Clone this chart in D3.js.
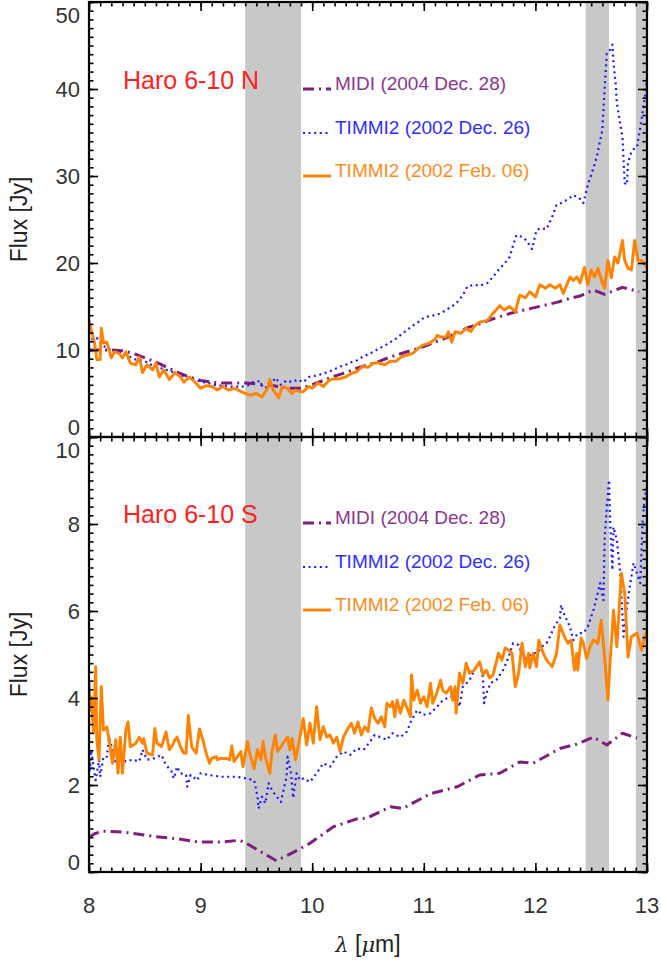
<!DOCTYPE html>
<html>
<head>
<meta charset="utf-8">
<script src="https://cdn.jsdelivr.net/npm/d3@7"></script>
<style>
  body { margin: 0; background: #fff; }
  svg { display: block; }
  text { font-family: "Liberation Sans", Arial, Helvetica, sans-serif; }
</style>
</head>
<body>
<div id="chart"></div>
<script>
// grey bands (micron)
const bands = [[9.4, 9.9], [12.45, 12.66], [12.9, 13.0]];

// Haro 6-10 N
const northMidi = [[8.0,10.0],[8.1,10.0],[8.2,10.0],[8.3,9.9],[8.4,9.6],[8.5,9.1],[8.6,8.6],[8.7,8.0],[8.8,7.4],[8.9,6.9],[9.0,6.5],[9.1,6.3],[9.2,6.2],[9.4,6.2],[9.5,6.1],[9.6,6.0],[9.7,5.8],[9.8,5.6],[9.9,5.6],[10.0,6.0],[10.1,6.5],[10.2,7.0],[10.3,7.4],[10.4,7.9],[10.5,8.3],[10.6,8.7],[10.7,9.2],[10.8,9.6],[10.9,10.0],[11.0,10.4],[11.1,10.9],[11.2,11.4],[11.3,12.0],[11.4,12.6],[11.5,13.0],[11.6,13.5],[11.7,13.9],[11.8,14.3],[11.9,14.6],[12.0,14.9],[12.1,15.2],[12.2,15.5],[12.3,15.9],[12.4,16.2],[12.45,16.5],[12.52,16.9],[12.62,16.4],[12.7,16.8],[12.78,17.2],[12.93,16.7]];

const northDec = [[8.02,11.2],[8.07,11.4],[8.12,10.5],[8.17,10.2],[8.22,9.9],[8.27,9.8],[8.32,9.6],[8.37,9.2],[8.42,8.9],[8.47,8.8],[8.52,8.6],[8.57,8.2],[8.62,8.0],[8.67,7.8],[8.72,7.6],[8.77,7.4],[8.82,7.1],[8.87,6.9],[8.92,6.7],[8.97,6.5],[9.02,6.3],[9.07,6.2],[9.12,6.0],[9.17,5.9],[9.22,5.9],[9.27,5.8],[9.32,5.8],[9.37,5.8],[9.42,5.9],[9.47,6.3],[9.52,6.4],[9.57,5.6],[9.62,5.9],[9.67,6.8],[9.72,6.0],[9.77,6.5],[9.82,6.3],[9.87,6.6],[9.92,6.3],[9.97,6.9],[10.05,7.1],[10.1,7.3],[10.15,7.5],[10.2,7.8],[10.25,8.1],[10.3,8.3],[10.35,8.6],[10.4,8.8],[10.45,9.2],[10.5,9.5],[10.55,9.8],[10.6,10.2],[10.65,10.5],[10.7,10.9],[10.75,11.3],[10.8,11.8],[10.85,12.3],[10.9,12.8],[10.95,13.2],[11.0,13.7],[11.05,13.9],[11.1,14.0],[11.15,14.2],[11.2,14.6],[11.25,15.0],[11.3,15.5],[11.35,16.3],[11.39,17.3],[11.45,17.5],[11.5,17.4],[11.57,17.7],[11.62,18.4],[11.67,19.2],[11.72,19.9],[11.77,20.7],[11.8,22.0],[11.83,23.2],[11.88,23.0],[11.92,22.6],[11.97,21.6],[12.01,23.8],[12.05,24.0],[12.1,23.9],[12.15,25.3],[12.19,26.7],[12.25,27.0],[12.3,27.4],[12.34,27.8],[12.39,27.5],[12.43,26.9],[12.47,29.0],[12.51,30.5],[12.55,32.2],[12.6,35.3],[12.62,40.0],[12.64,44.1],[12.67,44.5],[12.69,45.1],[12.7,43.0],[12.72,40.5],[12.73,38.4],[12.76,36.0],[12.78,34.5],[12.8,29.2],[12.82,29.0],[12.83,31.5],[12.86,32.8],[12.89,33.2],[12.91,33.3],[12.95,36.4],[12.98,39.0],[13.0,41.4]];

const northFeb = [[8.0,13.4],[8.02,12.3],[8.05,10.8],[8.07,8.9],[8.1,8.9],[8.11,12.5],[8.13,10.8],[8.16,10.9],[8.2,9.1],[8.23,9.8],[8.27,9.6],[8.3,9.1],[8.33,9.8],[8.37,8.5],[8.42,8.3],[8.45,9.2],[8.48,7.4],[8.52,8.3],[8.57,7.7],[8.6,8.5],[8.63,6.9],[8.67,7.7],[8.72,6.6],[8.77,7.4],[8.82,6.9],[8.85,6.3],[8.9,6.9],[8.95,6.3],[9.0,5.6],[9.05,5.9],[9.1,5.8],[9.15,5.4],[9.2,5.8],[9.25,5.4],[9.3,5.6],[9.35,5.3],[9.4,5.0],[9.45,4.8],[9.5,5.0],[9.55,4.6],[9.6,5.6],[9.62,6.6],[9.65,5.4],[9.7,4.5],[9.73,5.8],[9.78,5.6],[9.82,5.0],[9.85,5.4],[9.9,5.2],[9.92,5.2],[9.97,5.8],[10.0,5.6],[10.05,6.2],[10.1,5.8],[10.15,6.5],[10.2,6.7],[10.25,6.7],[10.3,6.9],[10.35,7.3],[10.4,7.5],[10.45,8.1],[10.5,8.0],[10.55,8.5],[10.6,8.5],[10.65,8.3],[10.7,8.7],[10.75,8.7],[10.8,9.2],[10.85,9.4],[10.9,9.6],[10.95,10.2],[11.0,10.6],[11.05,10.8],[11.1,11.2],[11.12,11.7],[11.15,11.5],[11.2,11.5],[11.22,12.1],[11.25,10.9],[11.28,12.1],[11.33,11.9],[11.38,12.5],[11.42,12.1],[11.45,12.7],[11.5,13.2],[11.57,13.4],[11.62,14.2],[11.68,15.1],[11.72,14.6],[11.77,15.0],[11.82,14.4],[11.86,16.3],[11.91,16.0],[11.95,16.7],[12.0,16.1],[12.04,17.5],[12.09,17.1],[12.13,17.5],[12.18,17.1],[12.22,17.5],[12.25,16.5],[12.31,18.4],[12.34,18.0],[12.37,18.4],[12.4,17.7],[12.44,19.5],[12.47,17.5],[12.5,19.2],[12.53,18.4],[12.56,19.4],[12.6,17.7],[12.62,17.1],[12.65,20.3],[12.68,18.3],[12.71,20.7],[12.74,20.0],[12.78,22.6],[12.8,20.3],[12.83,19.4],[12.86,19.2],[12.89,22.6],[12.92,20.3],[12.95,20.3],[13.0,19.5]];

// Haro 6-10 S
const southMidi = [[8.0,0.8],[8.05,0.88],[8.12,0.94],[8.3,0.92],[8.45,0.87],[8.6,0.81],[8.8,0.76],[8.98,0.69],[9.19,0.69],[9.35,0.73],[9.41,0.66],[9.55,0.45],[9.68,0.26],[9.83,0.45],[9.98,0.66],[10.19,1.04],[10.4,1.22],[10.49,1.24],[10.7,1.5],[10.81,1.46],[11.06,1.8],[11.3,1.96],[11.5,2.23],[11.68,2.27],[11.86,2.53],[11.98,2.5],[12.22,2.84],[12.37,2.94],[12.52,3.1],[12.64,2.92],[12.78,3.19],[12.91,3.08]];

const southDec = [[8.0,2.65],[8.01,2.35],[8.02,2.8],[8.04,2.42],[8.06,2.11],[8.09,2.58],[8.1,2.19],[8.13,2.65],[8.16,2.65],[8.18,3.1],[8.21,2.81],[8.24,2.5],[8.27,2.65],[8.33,2.54],[8.39,2.58],[8.45,2.54],[8.48,2.81],[8.52,2.58],[8.58,2.61],[8.65,2.69],[8.69,2.46],[8.74,2.31],[8.76,2.15],[8.79,2.42],[8.82,2.27],[8.87,2.23],[8.88,1.96],[8.91,2.23],[8.97,2.11],[9.0,2.27],[9.07,2.23],[9.19,2.19],[9.32,2.19],[9.41,2.15],[9.48,2.11],[9.51,1.73],[9.52,1.46],[9.55,1.73],[9.58,1.58],[9.61,2.04],[9.64,1.88],[9.67,1.77],[9.72,1.61],[9.77,2.19],[9.78,2.65],[9.81,2.27],[9.83,1.7],[9.86,2.27],[9.89,2.11],[9.92,2.15],[9.98,2.07],[10.04,2.27],[10.1,2.5],[10.16,2.42],[10.22,2.65],[10.28,2.77],[10.34,2.69],[10.4,2.84],[10.46,2.81],[10.52,3.0],[10.56,3.15],[10.61,3.1],[10.67,3.04],[10.72,3.19],[10.79,3.1],[10.85,3.23],[10.89,3.49],[10.94,3.72],[10.99,3.61],[11.06,3.65],[11.12,3.8],[11.17,3.95],[11.24,4.03],[11.3,3.95],[11.32,3.8],[11.35,4.26],[11.41,4.41],[11.47,4.72],[11.5,4.83],[11.53,4.48],[11.54,3.88],[11.57,4.18],[11.6,4.35],[11.65,4.41],[11.71,4.64],[11.76,4.94],[11.8,5.26],[11.85,5.22],[11.89,4.94],[11.92,4.91],[11.97,5.03],[12.01,5.03],[12.06,5.18],[12.1,5.26],[12.13,5.41],[12.17,5.64],[12.22,5.84],[12.23,6.14],[12.26,5.91],[12.31,5.64],[12.34,5.33],[12.38,5.49],[12.43,5.49],[12.47,5.64],[12.52,6.02],[12.55,6.32],[12.58,6.64],[12.61,6.25],[12.62,7.63],[12.64,8.39],[12.66,9.01],[12.67,8.02],[12.69,6.94],[12.7,7.93],[12.73,7.63],[12.76,6.87],[12.79,5.41],[12.82,6.09],[12.85,6.64],[12.88,7.1],[12.91,6.87],[12.94,6.64],[12.96,8.02],[12.98,8.62],[13.0,8.85]];

const southFeb = [[8.0,4.34],[8.01,3.72],[8.02,4.03],[8.04,3.19],[8.06,4.72],[8.07,3.04],[8.09,2.58],[8.11,4.26],[8.13,3.26],[8.16,3.33],[8.18,3.04],[8.21,2.5],[8.24,3.04],[8.26,2.27],[8.28,3.1],[8.3,2.27],[8.33,3.26],[8.35,3.45],[8.37,2.88],[8.42,2.96],[8.45,3.1],[8.48,2.96],[8.49,3.07],[8.52,2.73],[8.57,2.69],[8.59,3.3],[8.61,2.96],[8.65,2.88],[8.69,3.22],[8.72,2.81],[8.75,2.92],[8.77,3.04],[8.79,3.1],[8.82,2.88],[8.85,2.73],[8.87,2.73],[8.89,3.6],[8.92,2.88],[8.96,2.73],[8.99,3.29],[9.02,3.04],[9.05,2.73],[9.08,2.5],[9.1,2.61],[9.14,2.65],[9.15,2.58],[9.18,2.61],[9.23,2.61],[9.26,2.58],[9.28,2.9],[9.3,2.54],[9.33,2.65],[9.36,2.77],[9.38,2.42],[9.42,3.0],[9.44,2.73],[9.48,2.38],[9.51,2.81],[9.54,2.58],[9.56,3.0],[9.58,2.65],[9.62,2.27],[9.64,2.77],[9.67,3.15],[9.69,2.77],[9.72,2.88],[9.75,3.0],[9.78,3.1],[9.8,2.81],[9.82,3.07],[9.85,2.58],[9.89,3.1],[9.92,3.53],[9.95,2.92],[9.98,3.42],[10.01,2.96],[10.04,3.8],[10.07,3.04],[10.1,3.34],[10.13,3.1],[10.16,3.15],[10.19,2.96],[10.22,3.1],[10.25,2.77],[10.28,3.1],[10.32,3.3],[10.35,3.42],[10.38,3.19],[10.41,3.45],[10.44,3.15],[10.47,3.34],[10.5,3.23],[10.53,3.77],[10.56,3.53],[10.59,3.42],[10.62,3.57],[10.65,3.34],[10.67,3.88],[10.7,3.8],[10.72,3.92],[10.74,3.57],[10.76,3.95],[10.79,3.65],[10.82,3.95],[10.85,3.77],[10.88,3.57],[10.89,4.53],[10.91,3.95],[10.94,4.18],[10.97,3.88],[11.0,4.03],[11.03,3.8],[11.06,4.34],[11.08,3.88],[11.12,4.14],[11.15,4.41],[11.17,4.18],[11.2,4.11],[11.24,4.26],[11.26,3.95],[11.28,4.26],[11.29,3.65],[11.32,4.57],[11.35,4.34],[11.38,4.8],[11.41,4.57],[11.45,4.64],[11.5,4.83],[11.53,4.53],[11.56,4.64],[11.59,4.46],[11.62,4.53],[11.67,5.03],[11.7,4.87],[11.73,5.15],[11.76,5.1],[11.79,5.03],[11.82,4.26],[11.85,4.57],[11.88,5.26],[11.91,4.72],[11.94,5.03],[11.95,4.69],[11.98,5.03],[12.01,4.72],[12.03,5.33],[12.07,5.03],[12.1,4.87],[12.15,4.72],[12.19,5.03],[12.22,5.68],[12.26,5.41],[12.29,5.26],[12.32,5.33],[12.35,4.64],[12.37,5.03],[12.38,4.64],[12.41,5.38],[12.43,5.26],[12.46,4.91],[12.49,5.18],[12.52,5.33],[12.56,5.26],[12.59,5.79],[12.62,4.94],[12.65,3.95],[12.67,4.87],[12.7,6.02],[12.73,5.18],[12.75,6.02],[12.77,6.87],[12.8,6.41],[12.83,4.94],[12.86,5.41],[12.91,5.49],[12.95,5.1],[12.98,5.41],[13.0,5.56]];

const xTicks = [8, 9, 10, 11, 12, 13];
const topTicks = [0, 10, 20, 30, 40, 50];
const botTicks = [0, 2, 4, 6, 8, 10];
const legendNames = ['MIDI (2004 Dec. 28)', 'TIMMI2 (2002 Dec. 26)', 'TIMMI2 (2002 Feb. 06)'];

const width = 661, height = 960;
const left = 89, right = 647;

const colors = { midi: '#7d1e7d', dec: '#1a1aff', feb: '#ff8200' };
const textColors = { midi: '#8c3590', dec: '#2f2fff', feb: '#ff8c20' };
const styles = {
  midi: { width: 3, dash: '11,5,2,5', cap: 'butt' },
  dec: { width: 2.2, dash: '2,3.6', cap: 'butt' },
  feb: { width: 2.9, dash: null, cap: 'round' }
};

const x = d3.scaleLinear().domain([8, 13]).range([left, right]);
const yTop = d3.scaleLinear().domain([0, 50]).range([437, 2]);
const yBot = d3.scaleLinear().domain([0, 10]).range([872, 437]);

const panels = [
  { id: 'n', y: yTop, ticks: topTicks, minor: d3.range(0, 50.01, 1), name: 'Haro 6-10 N',
    series: { midi: northMidi, dec: northDec, feb: northFeb }, legendY: [89, 133, 176] },
  { id: 's', y: yBot, ticks: botTicks, minor: d3.range(0, 10.001, 0.2), name: 'Haro 6-10 S',
    series: { midi: southMidi, dec: southDec, feb: southFeb }, legendY: [523, 567, 610] }
];

const svg = d3.select('#chart').append('svg')
    .attr('width', width)
    .attr('height', height);

// bands behind everything, across both panels
svg.append('g')
  .selectAll('rect')
  .data(bands)
  .enter().append('rect')
    .attr('x', d => x(d[0]))
    .attr('width', d => x(d[1]) - x(d[0]))
    .attr('y', yTop.range()[1])
    .attr('height', yBot.range()[0] - yTop.range()[1])
    .attr('fill', '#c8c8c8');

const xMinor = d3.range(8, 13.001, 0.1);

panels.forEach(p => {
  const y = p.y;
  const y0 = y.range()[0], y1 = y.range()[1];

  svg.append('clipPath').attr('id', 'clip-' + p.id)
    .append('rect').attr('x', left).attr('y', y1).attr('width', right - left).attr('height', y0 - y1);

  const g = svg.append('g').attr('clip-path', 'url(#clip-' + p.id + ')');
  const line = d3.line().x(d => x(d[0])).y(d => y(d[1]));

  ['midi', 'dec', 'feb'].forEach(k => {
    g.append('path')
      .datum(p.series[k])
      .attr('d', line)
      .attr('fill', 'none')
      .attr('stroke', colors[k])
      .attr('stroke-width', styles[k].width)
      .attr('stroke-dasharray', styles[k].dash)
      .attr('stroke-linecap', styles[k].cap)
      .attr('stroke-linejoin', 'round');
  });

  // ticks (all pointing inward)
  const tk = (axis, tr, size, vals) => {
    const a = svg.append('g').attr('transform', tr)
      .call(axis.tickValues(vals).tickSize(size).tickFormat(''));
    a.select('.domain').remove();
    a.selectAll('line').attr('stroke', '#000').attr('stroke-width', 1.6);
  };
  tk(d3.axisBottom(x), 'translate(0,' + y0 + ')', -4.5, xMinor);
  tk(d3.axisBottom(x), 'translate(0,' + y0 + ')', -9, xTicks);
  tk(d3.axisTop(x), 'translate(0,' + y1 + ')', -4.5, xMinor);
  tk(d3.axisTop(x), 'translate(0,' + y1 + ')', -9, xTicks);
  tk(d3.axisLeft(y), 'translate(' + left + ',0)', -4.5, p.minor);
  tk(d3.axisLeft(y), 'translate(' + left + ',0)', -9, p.ticks);
  tk(d3.axisRight(y), 'translate(' + right + ',0)', -4.5, p.minor);
  tk(d3.axisRight(y), 'translate(' + right + ',0)', -9, p.ticks);

  // y tick labels, edge labels nudged inside the panel
  const last = p.ticks[p.ticks.length - 1];
  svg.append('g').selectAll('text')
    .data(p.ticks)
    .enter().append('text')
      .attr('x', left - 9)
      .attr('y', d => y(d) + (d === 0 ? -10 : d === last ? 13 : 0))
      .attr('dy', '0.36em')
      .attr('text-anchor', 'end')
      .attr('font-size', 22)
      .attr('fill', '#333')
      .text(d => d);

  // frame
  svg.append('rect')
    .attr('x', left).attr('y', y1)
    .attr('width', right - left).attr('height', y0 - y1)
    .attr('fill', 'none').attr('stroke', '#000').attr('stroke-width', 2.2);

  // object name
  svg.append('text')
    .attr('x', 123).attr('y', p.legendY[0])
    .attr('font-size', 25)
    .attr('fill', '#ff2020')
    .text(p.name);

  // legend
  ['midi', 'dec', 'feb'].forEach((k, i) => {
    const ly = p.legendY[i];
    svg.append('line')
      .attr('x1', 303).attr('x2', 331).attr('y1', ly).attr('y2', ly)
      .attr('stroke', colors[k])
      .attr('stroke-width', styles[k].width)
      .attr('stroke-dasharray', styles[k].dash);
    svg.append('text')
      .attr('x', 335).attr('y', ly + 1)
      .attr('font-size', 19)
      .attr('fill', textColors[k])
      .text(legendNames[i]);
  });

  // y axis title
  svg.append('text')
    .attr('transform', 'translate(27,' + ((y0 + y1) / 2) + ') rotate(-90)')
    .attr('text-anchor', 'middle')
    .attr('font-size', 23)
    .attr('fill', '#222')
    .text('Flux [Jy]');
});

// x tick labels
svg.append('g').selectAll('text')
  .data(xTicks)
  .enter().append('text')
    .attr('x', d => x(d))
    .attr('y', 913)
    .attr('text-anchor', 'middle')
    .attr('font-size', 22)
    .attr('fill', '#333')
    .text(d => d);

// x axis title
const xt = svg.append('text')
    .attr('x', (left + right) / 2)
    .attr('y', 952)
    .attr('text-anchor', 'middle')
    .attr('font-size', 23)
    .attr('fill', '#222');
xt.append('tspan').attr('font-style', 'italic').attr('font-family', '"DejaVu Serif", serif').attr('font-size', 21).text('λ');
xt.append('tspan').text(' [');
xt.append('tspan').attr('font-style', 'italic').attr('font-family', '"DejaVu Serif", serif').attr('font-size', 21).text('μ');
xt.append('tspan').text('m]');
</script>
</body>
</html>
